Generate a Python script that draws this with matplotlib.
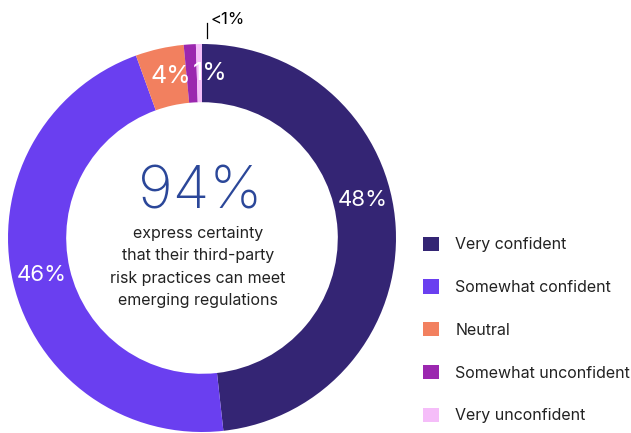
import numpy as np
import matplotlib.pyplot as plt

plt.rcParams['font.family'] = ['Inter', 'DejaVu Sans']

labels = ["Very confident", "Somewhat confident", "Neutral",
          "Somewhat unconfident", "Very unconfident"]
values = [48, 46, 4, 1, 0.5]
pct_text = ["48%", "46%", "4%", "1%", "<1%"]
colors = ["#342574", "#6a3ff0", "#f2805f", "#9b27af", "#f5bdf9"]

fig = plt.figure(figsize=(6.31, 4.33), dpi=100)
# pie axes: radius 1 -> 194 px, centre near (202, 238) px
ax = fig.add_axes([8 / 631, 1 / 433, 388 / 631, 388 / 433])
wedges, _ = ax.pie(values, colors=colors, startangle=90, counterclock=False,
                   wedgeprops=dict(width=0.30, linewidth=0))
ax.set_xlim(-1, 1)
ax.set_ylim(-1, 1)
ax.set_aspect("equal")

# white labels inside the ring, small angle nudges so they don't collide
nudge = [10, 0, -1.8, -6.5]
sizes = [16, 16, 18, 18]
for w, t, dn, fs in zip(wedges[:4], pct_text[:4], nudge, sizes):
    ang = np.deg2rad((w.theta1 + w.theta2) / 2 + dn)
    r = 0.85
    ax.text(r * np.cos(ang), r * np.sin(ang), t, color="white",
            fontsize=fs, ha="center", va="center")

# the tiny slice gets an outside label with a leader line
w = wedges[4]
ang = np.deg2rad((w.theta1 + w.theta2) / 2)
x0 = np.cos(ang)
ax.plot([x0 + 0.04, x0 + 0.04], [1.03, 1.11], color="black", lw=0.9, clip_on=False)
ax.text(x0 + 0.06, 1.125, pct_text[4], color="black", fontsize=12,
        ha="left", va="center")

# centre text
ax.text(-0.01, 0.23, "94%", color="#2b4799", fontsize=43, fontweight="light",
        ha="center", va="center")
ax.text(-0.02, -0.15, "express certainty\nthat their third-party\nrisk practices can meet\nemerging regulations",
        color="#222222", fontsize=11.5, ha="center", va="center", linespacing=1.62)

fig.legend(wedges, labels, loc="center left", bbox_to_anchor=(409 / 631, 103 / 433),
           frameon=False, fontsize=11.5, handlelength=1.0, handleheight=1.0,
           handletextpad=1.0, labelspacing=1.7, labelcolor="#222222")

fig.savefig("out.png", dpi=100)
